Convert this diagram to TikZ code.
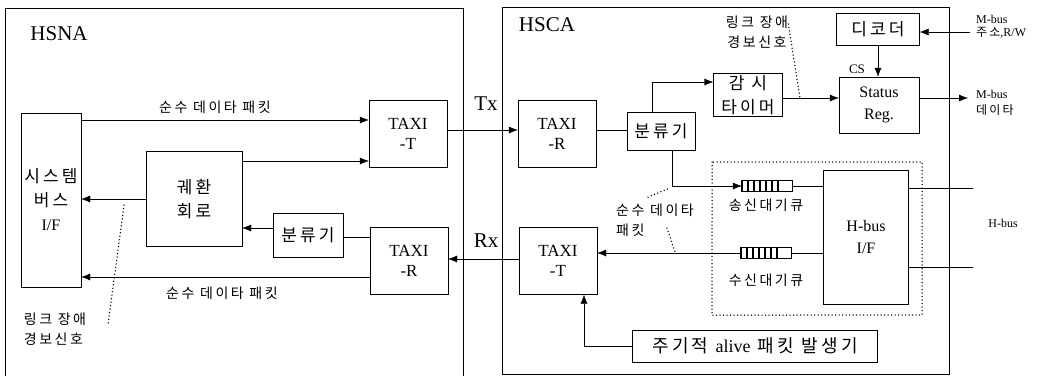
\documentclass[tikz,border=0pt]{standalone}
\usepackage{fontspec}
\setmainfont{Liberation Serif}
\newfontfamily\kr[LetterSpace=18]{Noto Sans CJK KR}
\usetikzlibrary{arrows.meta}
\newcommand\fsz[2]{\fontsize{#1}{#2}\selectfont}
\tikzset{>={Latex[length=9pt,width=7pt]},line width=1.2pt,
  every node/.style={inner sep=0pt},
  blk/.style={draw,fill=white,align=center},
  title/.style={font=\fsz{21}{24}},
  small/.style={font=\kr\fsz{14}{20},align=center},
  big/.style={font=\kr\fsz{17}{24}},
  taxi/.style={blk,font=\fsz{17}{20},minimum width=78pt,minimum height=67pt},
  queue/.style={draw,minimum width=50pt,minimum height=11pt},
  note/.style={line width=1.5pt,line cap=round,dash pattern=on 0pt off 3.5pt}}

\begin{document}
\begin{tikzpicture}[x=1pt,y=-1pt]
\useasboundingbox (0,0) rectangle (1050,376);
% frames
\draw (5,376) |- (463,8) -- (463,376);
\draw (502,7) rectangle (949,374);
\draw[note] (712,162) rectangle (922,315);
\node[title] (hsna) at (59,34) {HSNA};
\node[title] (hsca) at (547,25) {HSCA};
\node[title] (tx) at (486,104) {Tx};
\node[title] (rx) at (486,241) {Rx};

% HSNA side
\node[blk,big,minimum width=60pt,minimum height=174pt] (sbus) at (51,200)
  {시스템\\버스\\{\rmfamily\fsz{16}{24}I/F}};
\node[blk,big,minimum width=96pt,minimum height=95pt] (fb) at (194,199) {궤환\\회로};
\node[taxi] (taxiTa) at (408,134) {TAXI\\-T};
\node[taxi] (taxiRa) at (409,261) {TAXI\\-R};
\node[blk,big,minimum width=70pt,minimum height=44pt] (clsA) at (308,235) {분류기};
\node[small] (pktTop) at (215,107) {순수 데이타 패킷};
\node[small] (pktBot) at (222,293) {순수 데이타 패킷};
\node[small,align=left] (alarmA) at (55,329) {링크 장애\\경보신호};

\draw[->] (sbus.east |- 0,120) -- (taxiTa.west |- 0,120);
\draw[->] (fb.east |- 0,161) -- (taxiTa.west |- 0,161);
\draw[->] (fb.west |- 0,199) -- (sbus.east |- 0,199);
\draw[->] (clsA.west |- 0,228) -- (fb.east |- 0,228);
\draw (taxiRa.west |- 0,237) -- (clsA.east |- 0,237);
\draw[->] (taxiRa.west |- 0,277) -- (sbus.east |- 0,277);
\coordinate (alarmAtop) at (124,205);
\draw[note] (alarmAtop) -- (108,325);

% HSCA side
\node[taxi] (taxiRb) at (557,134) {TAXI\\-R};
\node[taxi] (taxiTb) at (558,261) {TAXI\\-T};
\node[blk,big,minimum width=68pt,minimum height=38pt] (clsB) at (661,131) {분류기};
\node[blk,big,minimum width=69pt,minimum height=43pt] (timer) at (748,95) {감 시\\타이머};
\node[blk,big,minimum width=83pt,minimum height=32pt] (dec) at (878,29) {디코더};
\node[blk,font=\fsz{16}{22},minimum width=80pt,minimum height=56pt] (stat) at (879,105) {Status\\Reg.};
\node[blk,font=\fsz{16}{22},minimum width=85pt,minimum height=134pt] (hbus) at (866,237) {H-bus\\I/F};
\node[blk,font=\kr\fsz{18}{24},minimum width=245pt,minimum height=32pt] (alive) at (755,346)
  {주기적 {\rmfamily alive} 패킷 발생기};
\node[queue] (txq) at (767,186) {};
\node[queue] (rxq) at (766,253) {};
\foreach \q in {txq,rxq} {
  \foreach \i in {6,12,...,36} \draw[line width=1.6pt] (\q.north west) ++(\i,0) -- ++(0,11);
  \draw[line width=2.2pt] (\q.north west) -- (\q.south west);
}
\node[small] (txqlbl) at (766,205) {송신대기큐};
\node[small] (rxqlbl) at (766,280) {수신대기큐};
\node[small] (alarmB) at (757,32) {링크 장애\\경보신호};
\node[small,align=left,anchor=north west] (pktB) at (616,204) {순수 데이타\\패킷};
\node[font=\fsz{13}{14}] (cs) at (857,69) {CS};
\node[font=\fsz{12}{13},align=left,anchor=west] (maddrlbl) at (976,27) {M-bus\\{\kr 주소},R/W};
\node[font=\fsz{12}{16},align=left,anchor=west] (mdatalbl) at (976,103) {M-bus\\{\kr 데이타}};
\node[font=\fsz{12}{14}] (hbuslbl) at (1003,223) {H-bus};

\draw[->] (taxiTa.east |- 0,130) -- (taxiRb.west |- 0,130);
\draw[->] (taxiTb.west |- 0,259) -- (taxiRa.east |- 0,259);
\draw (taxiRb.east |- 0,130) -- (clsB.west |- 0,130);
\draw[->] ([xshift=-9pt]clsB.north) |- (timer.west |- 0,82);
\draw[->] ([xshift=11pt]clsB.south) |- (txq.west);
\draw (txq.east) -- (hbus.west |- txq.east);
\draw (rxq.east) -- (hbus.west |- rxq.east);
\draw[->] (rxq.west) -- (taxiTb.east |- rxq.west);
\draw[->] (timer.east |- 0,98) -- (stat.west |- 0,98);
\draw[->] (dec.south) -- (dec.south |- stat.north);
\coordinate (maddr) at (970,32);
\coordinate (mdata) at (968,98);
\coordinate (hb1) at (973,188);
\coordinate (hb2) at (973,267);
\draw[->] (maddr) -- (dec.east |- maddr);
\draw[->] (stat.east |- mdata) -- (mdata);
\draw (hbus.east |- hb1) -- (hb1);
\draw (hbus.east |- hb2) -- (hb2);
\draw[->] (alive.west) -| ([xshift=26pt]taxiTb.south);
\draw[note] ([shift={(0pt,8pt)}]alarmB.east) -- (800,98);
\draw[note] (648,197) -- (670,188);
\draw[note] (667,228) -- (675,252);
\end{tikzpicture}
\end{document}
